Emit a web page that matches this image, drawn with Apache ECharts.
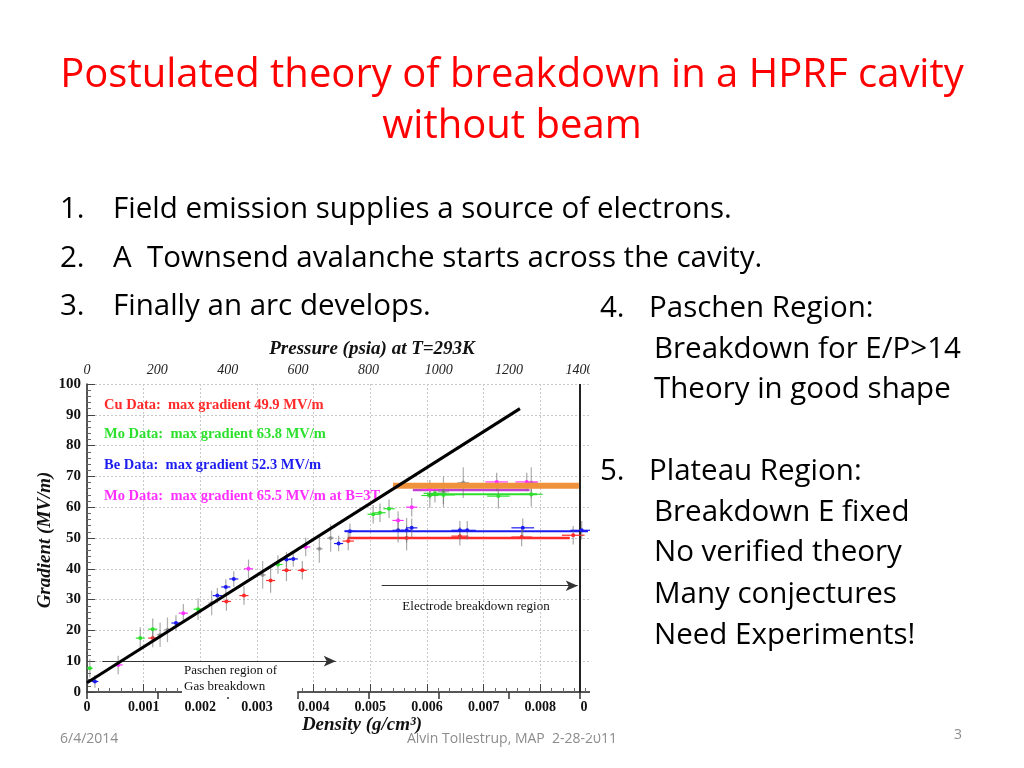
<!DOCTYPE html>
<html><head><meta charset="utf-8">
<script src="https://cdn.jsdelivr.net/npm/echarts@6/dist/echarts.min.js"></script>
<style>html,body{margin:0;padding:0;background:#fff}#c{width:1024px;height:768px}</style>
</head><body><div id="c"></div>
<script>
// ---- data (density g/cm^3, gradient MV/m, density error, gradient error) ----
const cuPoints = [[0.00116,17.5,0.00008,3],[0.00246,29.4,0.00008,3],[0.00277,31.3,0.00008,3],[0.00324,36.2,0.00008,4],[0.00352,39.5,0.00008,3.5],[0.0038,39.5,0.00008,3],[0.00461,49.0,0.0001,3],[0.00564,50.0,0.00015,4],[0.00658,50.6,0.00015,3],[0.00767,50.3,0.00018,3],[0.00858,50.9,0.0002,3]];
const moPoints = [[0.00005,7.7,0.00005,3],[0.00094,17.5,0.00008,3.5],[0.00116,20.4,0.00008,3.5],[0.00196,26.9,0.00008,3.5],[0.00337,41.4,0.00008,3],[0.00505,57.7,0.0001,3],[0.00517,58.2,0.0001,3],[0.00533,59.5,0.0001,3],[0.00605,63.8,0.00015,4],[0.00614,64.5,0.0002,3],[0.00629,64.0,0.0002,3],[0.00726,63.6,0.0002,4],[0.00784,64.2,0.0002,4]];
const bePoints = [[0.00014,3.4,0.00006,2],[0.00157,22.4,0.00008,2.5],[0.0023,31.3,0.00008,2.5],[0.00245,34.1,0.00008,2.5],[0.00259,36.7,0.00008,2.5],[0.00352,43.0,0.00008,2.5],[0.00364,43.2,0.00008,2.5],[0.00444,48.2,0.00008,2.5],[0.00464,52.2,0.0001,2.5],[0.00549,52.5,0.0001,4],[0.00564,52.5,0.0001,4],[0.00573,53.3,0.0001,3],[0.00658,52.5,0.00015,3],[0.00671,52.5,0.00015,3],[0.00769,53.3,0.0002,3],[0.00873,52.5,0.0002,3]];
const moBPoints = [[0.00055,8.8,0.00008,3],[0.0017,25.6,0.00008,3],[0.00285,40.0,0.00008,3],[0.00386,47.1,0.00008,3],[0.00549,55.7,0.0001,3],[0.00573,60.0,0.0001,3],[0.00605,65.8,0.00015,3],[0.00723,68.2,0.0002,3],[0.00776,68.2,0.0002,3]];
const greyPoints = [[0.00129,18.6,0.00006,4],[0.00142,20.2,0.00006,4],[0.0022,28.9,0.00006,4],[0.0031,38.0,0.00006,4.5],[0.0041,46.5,0.00006,4.5],[0.0043,50.0,0.00006,4.5],[0.00664,68.0,0.0001,5],[0.00629,65.0,0.0001,5],[0.00784,68.0,0.0001,5]];
const theoryLine = [[0,3],[0.00764,92]];
const plateauOrange = [[0.0054,67],[0.00868,67]];
const plateauMoB = [[0.00575,65.6],[0.00781,65.6]];
const plateauMo = [[0.0060,64.2],[0.00794,64.2]];
const plateauBe = [[0.00455,52.2],[0.00884,52.2]];
const plateauCu = [[0.0046,50.0],[0.00852,50.0]];
const paschenArrow = [[0.00027,10],[0.00439,10]];
const electrodeArrow = [[0.0052,34.5],[0.00866,34.5]];
const psiPerDensity = 1400/0.00869;
const legendTexts = ['Cu Data:  max gradient 49.9 MV/m','Mo Data:  max gradient 63.8 MV/m','Be Data:  max gradient 52.3 MV/m','Mo Data:  max gradient 65.5 MV/m at B=3T'];
const titleLines = ['Postulated theory of breakdown in a HPRF cavity','without beam'];
const bulletsLeft = [['1.','Field emission supplies a source of electrons.'],['2.','A  Townsend avalanche starts across the cavity.'],['3.','Finally an arc develops.']];
const bulletsRight = [['4.','Paschen Region:'],['','Breakdown for E/P>14'],['','Theory in good shape'],['5.','Plateau Region:'],['','Breakdown E fixed'],['','No verified theory'],['','Many conjectures'],['','Need Experiments!']];
const footer = ['6/4/2014','Alvin Tollestrup, MAP  2-28-2011','3'];

const RED='#ff2a2a', GREEN='#2ee02e', BLUE='#1c1cf0', MAG='#ff30ff', ORANGE='#f0913c';
const serif = '"Liberation Serif","DejaVu Serif",serif';
const sans = '"Open Sans", Lato, sans-serif';

function errSeries(data,color,vcolor){
  return {type:'custom', data:data, z:5, clip:true,
    renderItem:function(params,api){
      const x=api.value(0), y=api.value(1), dx=api.value(2), dy=api.value(3);
      const c=api.coord([x,y]), l=api.coord([x-dx,y]), r=api.coord([x+dx,y]);
      const t=api.coord([x,y+dy]), b=api.coord([x,y-dy]);
      return {type:'group',children:[
        {type:'line',shape:{x1:c[0],y1:t[1],x2:c[0],y2:b[1]},style:{stroke:vcolor,lineWidth:1.2}},
        {type:'line',shape:{x1:l[0],y1:c[1],x2:r[0],y2:c[1]},style:{stroke:color,lineWidth:1.2}},
        {type:'circle',shape:{cx:c[0],cy:c[1],r:2},style:{fill:color}}
      ]};
    }};
}
function lineSeries(data,color,w,z){
  return {type:'line',data:data,symbol:'none',z:z||4,lineStyle:{color:color,width:w},silent:true,animation:false};
}

const graphics = [];
// footer (partly hidden under chart picture)
graphics.push({type:'text',z:-2,style:{text:footer[0],x:60,y:739,fill:'#8c8c8c',font:'14px '+sans,textVerticalAlign:'middle'}});
graphics.push({type:'text',z:-2,style:{text:footer[1],x:512,y:739,fill:'#8c8c8c',font:'14px '+sans,textAlign:'center',textVerticalAlign:'middle'}});
graphics.push({type:'text',z:-2,style:{text:footer[2],x:962,y:735,fill:'#8c8c8c',font:'14px '+sans,textAlign:'right',textVerticalAlign:'middle'}});
graphics.push({type:'rect',z:-1,shape:{x:30,y:335,width:560,height:398},style:{fill:'#fff'}});
// title
graphics.push({type:'text',style:{text:titleLines[0],x:512,y:76,fill:'#ff0000',font:'40px '+sans,textAlign:'center',textVerticalAlign:'middle'}});
graphics.push({type:'text',style:{text:titleLines[1],x:512,y:127,fill:'#ff0000',font:'40px '+sans,textAlign:'center',textVerticalAlign:'middle'}});
bulletsLeft.forEach((b,i)=>{
  const y=210+i*48.5;
  graphics.push({type:'text',style:{text:b[0],x:60,y:y,fill:'#000',font:'29.5px '+sans,textVerticalAlign:'middle'}});
  graphics.push({type:'text',style:{text:b[1],x:113,y:y,fill:'#000',font:'29.5px '+sans,textVerticalAlign:'middle'}});
});
const rightY=[309,350,390,472,513,553,595,636];
bulletsRight.forEach((b,i)=>{
  if(b[0]) graphics.push({type:'text',style:{text:b[0],x:600,y:rightY[i],fill:'#000',font:'29.5px '+sans,textVerticalAlign:'middle'}});
  graphics.push({type:'text',style:{text:b[1],x:b[0]?649:654,y:rightY[i],fill:'#000',font:'29.5px '+sans,textVerticalAlign:'middle'}});
});
// chart texts
graphics.push({type:'text',z:10,style:{text:'Pressure (psia) at T=293K',x:372,y:349,fill:'#111',font:'italic bold 19px '+serif,textAlign:'center',textVerticalAlign:'middle'}});
graphics.push({type:'text',z:10,rotation:Math.PI/2,x:45,y:540,style:{text:'Gradient (MV/m)',x:0,y:0,fill:'#111',font:'italic bold 19px '+serif,textAlign:'center',textVerticalAlign:'middle'}});
graphics.push({type:'text',z:10,style:{text:'Density (g/cm³)',x:362,y:725,fill:'#111',font:'italic bold 19px '+serif,textAlign:'center',textVerticalAlign:'middle'}});
const legColors=[RED,GREEN,BLUE,MAG], legY=[405,434,465,496];
legendTexts.forEach((t,i)=>{
  graphics.push({type:'text',z:3,style:{text:t,x:104,y:legY[i],fill:legColors[i],font:'bold 14.5px '+serif,textVerticalAlign:'middle'}});
});
graphics.push({type:'text',z:3,style:{text:'Paschen region of\nGas breakdown',x:182,y:679,fill:'#111',font:'13px '+serif,lineHeight:16,textVerticalAlign:'middle',backgroundColor:'#fff',padding:[2,20,2,2]}});
graphics.push({type:'text',z:3,style:{text:'Electrode breakdown region',x:476,y:607,fill:'#111',font:'13px '+serif,textAlign:'center',textVerticalAlign:'middle'}});
// crop right side of chart picture
graphics.push({type:'rect',z:50,shape:{x:590,y:335,width:8,height:400},style:{fill:'#fff'}});

const chart = echarts.init(document.getElementById('c'));
chart.setOption({
  animation:false,
  backgroundColor:'#fff',
  grid:{left:87,top:384,width:510,height:308,show:false},
  xAxis:[{
    type:'value',min:0,max:0.009,interval:0.001,
    axisLine:{show:true,onZero:false,lineStyle:{color:'#222',width:1.5}},
    axisTick:{inside:true,length:8,lineStyle:{color:'#444'}},
    minorTick:{show:true,splitNumber:5,length:4,lineStyle:{color:'#666'}},
    splitLine:{show:true,lineStyle:{color:'#c8c8c8',type:[2,2]}},
    axisLabel:{color:'#111',fontFamily:serif,fontWeight:'bold',fontSize:14,margin:8,
      formatter:v=>v===0?'0':(v>0.0085?'{c|0}':v.toFixed(3)),
      rich:{c:{color:'#111',fontFamily:serif,fontWeight:'bold',fontSize:14,padding:[0,26,0,0]}}}
  },{
    type:'value',position:'top',min:0,max:0.009*psiPerDensity,interval:200,
    axisLine:{show:true,lineStyle:{color:'#555',width:1}},
    axisTick:{inside:true,length:7,lineStyle:{color:'#333',width:1.5}},
    splitLine:{show:false},
    axisLabel:{color:'#222',fontFamily:serif,fontStyle:'italic',fontSize:14,margin:7,
      formatter:v=>(Math.abs(v/200-Math.round(v/200))<1e-6)?String(Math.round(v)):''}
  }],
  yAxis:[{
    type:'value',min:0,max:100,interval:10,
    axisLine:{show:true,lineStyle:{color:'#222',width:1.5}},
    axisTick:{inside:true,length:8,lineStyle:{color:'#444'}},
    minorTick:{show:true,splitNumber:5,length:4,lineStyle:{color:'#666'}},
    splitLine:{show:true,lineStyle:{color:'#c8c8c8',type:[2,2]}},
    axisLabel:{color:'#111',fontFamily:serif,fontWeight:'bold',fontSize:15,margin:6}
  }],
  graphic:graphics,
  series:[
    errSeries(greyPoints,'rgba(120,120,120,0.6)','rgba(110,110,110,0.55)'),
    lineSeries(plateauCu,RED,2.5),
    lineSeries(plateauBe,BLUE,2),
    lineSeries(plateauMo,GREEN,2),
    lineSeries(plateauMoB,'#c040d0',2.5),
    errSeries(cuPoints,RED,'rgba(110,110,110,0.6)'),
    errSeries(moPoints,GREEN,'rgba(110,110,110,0.6)'),
    errSeries(bePoints,BLUE,'rgba(110,110,110,0.6)'),
    errSeries(moBPoints,MAG,'rgba(110,110,110,0.6)'),
    lineSeries(plateauOrange,ORANGE,6,6),
    Object.assign(lineSeries(theoryLine,'#000',3,7),{
      markLine:{silent:true,symbol:['none','arrow'],symbolSize:[8,12],label:{show:false},
        lineStyle:{color:'#333',width:1.2,type:'solid'},
        data:[
          [{coord:paschenArrow[0]},{coord:paschenArrow[1]}],
          [{coord:electrodeArrow[0]},{coord:electrodeArrow[1]}],
          [{coord:[1400/psiPerDensity,0],symbol:'none'},{coord:[1400/psiPerDensity,100],symbol:'none',lineStyle:{color:'#222',width:2}}]
        ]}
    })
  ]
});
</script></body></html>
